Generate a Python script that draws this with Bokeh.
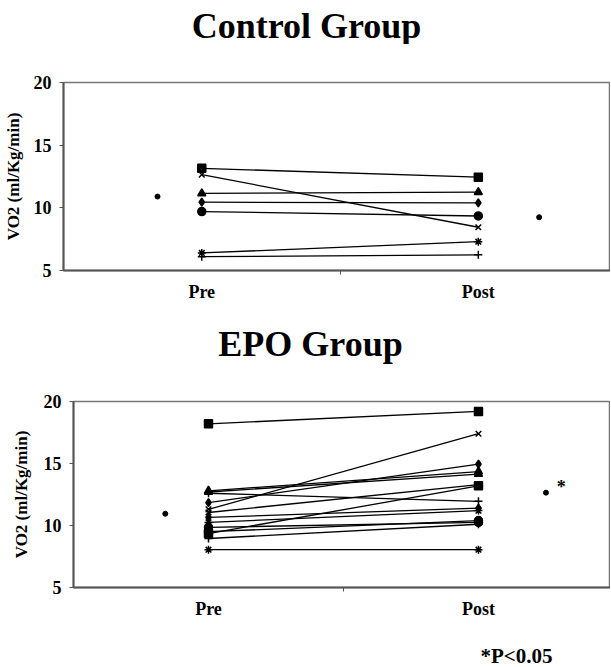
from bokeh.plotting import figure
from bokeh.layouts import column
from bokeh.models import Range1d, FixedTicker
from bokeh.core.properties import value
from bokeh.embed import file_html
from bokeh.resources import INLINE

FONT = "Liberation Serif"
W = 610

categories = ["Pre", "Post"]
cat_x = [1, 2]
y_ticks = [5, 10, 15, 20]

# Control group: one row per subject
ctrl_markers = ["diamond", "square", "triangle", "x", "asterisk", "circle", "cross"]
ctrl_pre = [10.45, 13.15, 11.15, 12.65, 6.40, 9.70, 6.10]
ctrl_post = [10.40, 12.45, 11.25, 8.45, 7.30, 9.35, 6.25]
ctrl_mean_x = [0.84, 2.22]
ctrl_mean = [10.9, 9.25]

# EPO group
epo_markers = ["diamond", "square", "triangle", "x", "asterisk", "circle", "cross",
               "diamond", "square", "triangle", "x", "asterisk", "circle", "cross"]
epo_pre = [11.85, 18.20, 12.80, 11.30, 8.05, 9.50, 12.60,
           10.65, 9.35, 12.70, 11.05, 10.25, 9.85, 8.95]
epo_post = [14.95, 19.20, 14.35, 17.40, 8.05, 10.40, 11.95,
            11.40, 13.20, 14.15, 13.30, 11.20, 10.25, 10.10]
epo_mean_x = [0.84, 2.25]
epo_mean = [10.95, 12.65]
sig_mark = "*"

titles = ["Control Group", "EPO Group"]
footnote = "*P<0.05"


def text_strip(txt, height, x, mid, size, align="center"):
    """A frameless strip holding one line of text (pixel coordinates)."""
    p = figure(width=W, height=height, output_backend="svg", toolbar_location=None,
               x_range=Range1d(0, W), y_range=Range1d(0, height),
               x_axis_location=None, y_axis_location=None, frame_align=False,
               min_border=0, min_border_left=0, min_border_right=0,
               min_border_top=0, min_border_bottom=0)
    p.xgrid.visible = False
    p.ygrid.visible = False
    p.outline_line_color = None
    p.background_fill_color = "white"
    p.border_fill_color = "white"
    p.text(x=[x], y=[height - mid], text=[txt], text_font=value(FONT),
           text_font_size=size, text_font_style="bold", text_color="black",
           text_align=align, text_baseline="middle")
    return p


def make(pre, post, markers, mean_x, mean_y, height, left, top, bottom, x_end,
         label_standoff):
    p = figure(width=W, height=height, output_backend="svg", toolbar_location=None,
               x_range=Range1d(0.5, x_end), y_range=Range1d(5, 20), frame_align=False,
               min_border_left=left, min_border_right=0,
               min_border_top=top, min_border_bottom=bottom)
    p.xgrid.visible = False
    p.ygrid.visible = False
    p.outline_line_color = "#777777"
    p.outline_line_width = 1.5
    p.background_fill_color = "white"
    p.border_fill_color = "white"

    ya = p.yaxis[0]
    ya.ticker = FixedTicker(ticks=y_ticks)
    ya.major_label_text_font = FONT
    ya.major_label_text_font_size = "18px"
    ya.major_label_text_font_style = "bold"
    ya.major_label_text_color = "black"
    ya.major_label_standoff = 8
    ya.major_tick_out = 4
    ya.major_tick_in = 0
    ya.minor_tick_out = 0
    ya.minor_tick_in = 0
    ya.axis_line_color = "#555555"
    ya.axis_line_width = 2
    ya.major_tick_line_color = "#555555"
    ya.axis_label = "VO2 (ml/Kg/min)"
    ya.axis_label_text_font = FONT
    ya.axis_label_text_font_size = "17px"
    ya.axis_label_text_font_style = "bold"
    ya.axis_label_text_color = "black"
    ya.axis_label_standoff = label_standoff

    xa = p.xaxis[0]
    xa.ticker = FixedTicker(ticks=cat_x, minor_ticks=[1.5])
    xa.major_label_overrides = {cat_x[i]: categories[i] for i in range(len(categories))}
    xa.major_label_text_font = FONT
    xa.major_label_text_font_size = "18px"
    xa.major_label_text_font_style = "bold"
    xa.major_label_text_color = "black"
    xa.major_tick_out = 0
    xa.major_tick_in = 0
    xa.minor_tick_out = 4
    xa.minor_tick_in = 0
    xa.minor_tick_line_color = "#555555"
    xa.axis_line_color = "#555555"
    xa.axis_line_width = 2
    xa.major_label_standoff = 7

    for m, a, b in zip(markers, pre, post):
        p.line(cat_x, [a, b], line_color="black", line_width=1.3)
        p.scatter(cat_x, [a, b], marker=m, size=8, line_color="black",
                  fill_color="black", line_width=1.5)
    p.scatter(mean_x, mean_y, marker="circle", size=5, fill_color="black",
              line_color="black")
    return p


t1 = text_strip(titles[0], 44, 306, 25, "36px")
top = make(ctrl_pre, ctrl_post, ctrl_markers, ctrl_mean_x, ctrl_mean,
           278, 62, 38, 52, 2.478, 8)
t2 = text_strip(titles[1], 44, 310, 21.5, "36px")
bot = make(epo_pre, epo_post, epo_markers, epo_mean_x, epo_mean,
           259, 73, 35, 38, 2.489, 10)
bot.text(x=[epo_mean_x[1] + 0.04], y=[epo_mean[1] + 0.45], text=[sig_mark],
         text_font=value(FONT), text_font_size="18px", text_font_style="bold",
         text_color="black", text_baseline="alphabetic", text_align="left")
foot = text_strip(footnote, 41, 480, 30, "21px", align="left")

layout = column(t1, top, t2, bot, foot, spacing=0)
open("out.html", "w").write(file_html(layout, INLINE))
